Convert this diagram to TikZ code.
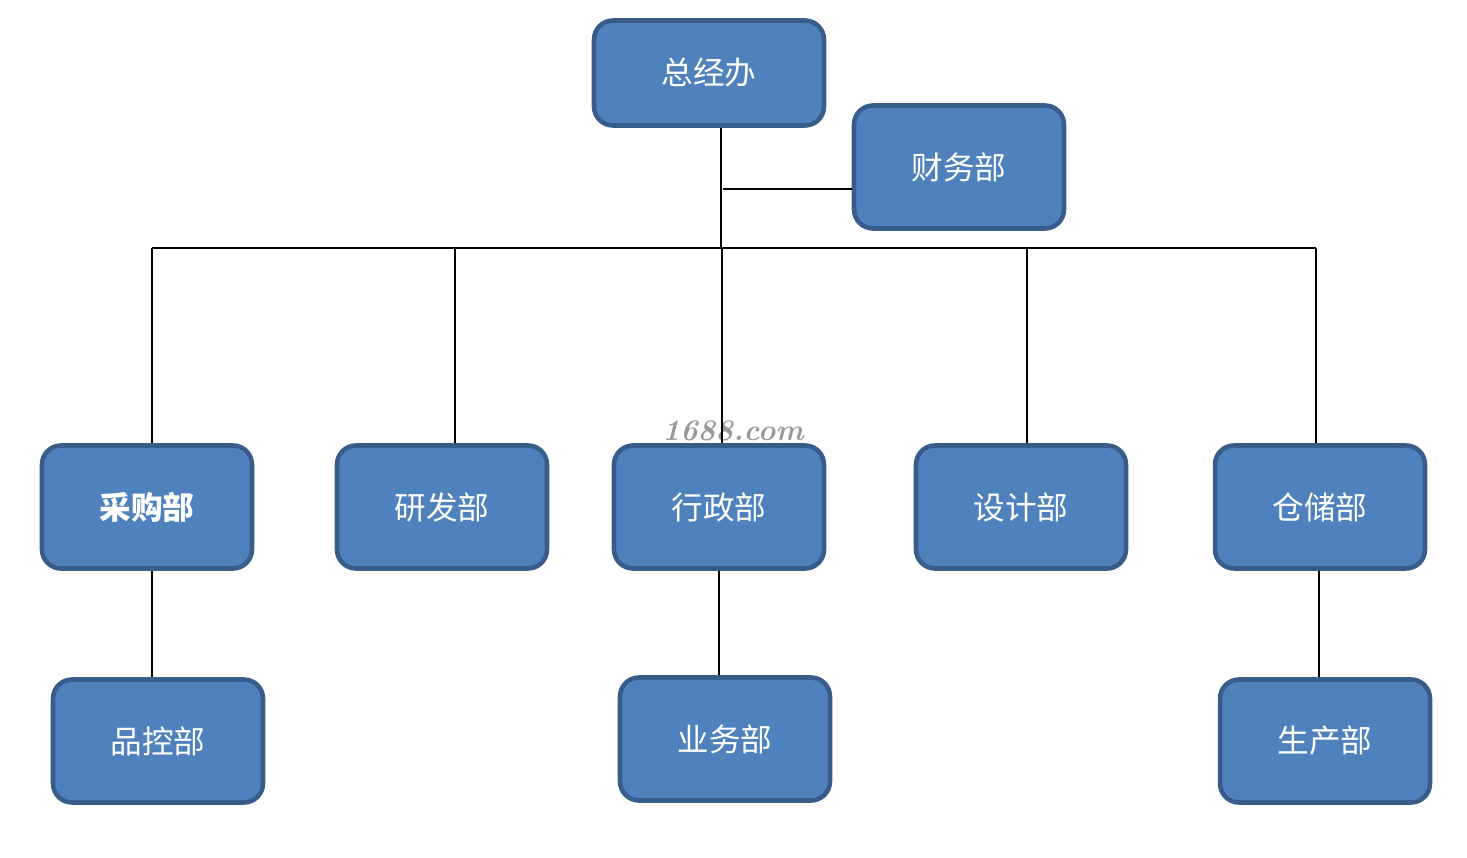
\documentclass[tikz,border=0pt]{standalone}
\usepackage{fontspec}
\newfontfamily\cjk{Noto Sans CJK SC}
\definecolor{boxfill}{HTML}{4F81BD}
\definecolor{boxline}{HTML}{385D8A}
\tikzset{
  dept/.style={draw=boxline, fill=boxfill, line width=2.6pt, rounded corners=0.38cm,
    minimum width=4.2cm, minimum height=2.46cm, text=white, font=\cjk\fontsize{18}{21}\selectfont},
  link/.style={line width=1.1pt}
}
\begin{document}
\begin{tikzpicture}[x=0.02cm, y=-0.02cm]
\useasboundingbox (0,0) rectangle (1467,858);

% watermark
\node[gray!80, font=\itshape\bfseries\fontsize{17}{17}\selectfont] (wm) at (733,431) {1688.com};

% boxes
\node[dept, minimum width=4.6cm, minimum height=2.1cm] (zjb) at (709,73) {总经办};
\node[dept] (cw) at (959,167) {财务部};
\node[dept, font=\cjk\bfseries\fontsize{18}{21}\selectfont] (cg) at (147,507) {采购部};
\node[dept] (yf) at (442,507) {研发部};
\node[dept] (xz) at (719,507) {行政部};
\node[dept] (sj) at (1021,507) {设计部};
\node[dept] (cc) at (1320,507) {仓储部};
\node[dept] (pk) at (158,741) {品控部};
\node[dept] (yw) at (725,739) {业务部};
\node[dept] (sc) at (1325,741) {生产部};

% bus points
\coordinate (top) at (721,248);
\coordinate (cwin) at (723,189);
\coordinate (b1) at (152,248);
\coordinate (b2) at (455,248);
\coordinate (b3) at (722,248);
\coordinate (b4) at (1027,248);
\coordinate (b5) at (1316,248);

% lines
\draw[link] (top) -- (top |- zjb.south);
\draw[link] (cwin) -- (cwin -| cw.west);
\draw[link] (b1) -- (b5);
\draw[link] (b1) -- (b1 |- cg.north);
\draw[link] (b2) -- (b2 |- yf.north);
\draw[link] (b3) -- (b3 |- xz.north);
\draw[link] (b4) -- (b4 |- sj.north);
\draw[link] (b5) -- (b5 |- cc.north);
\draw[link] (cg.south -| b1) -- (pk.north -| b1);
\draw[link] (xz.south) -- (xz.south |- yw.north);
\draw[link] ([xshift=-0.02cm]cc.south) -- ([xshift=-0.02cm]cc.south |- sc.north);
\end{tikzpicture}
\end{document}
